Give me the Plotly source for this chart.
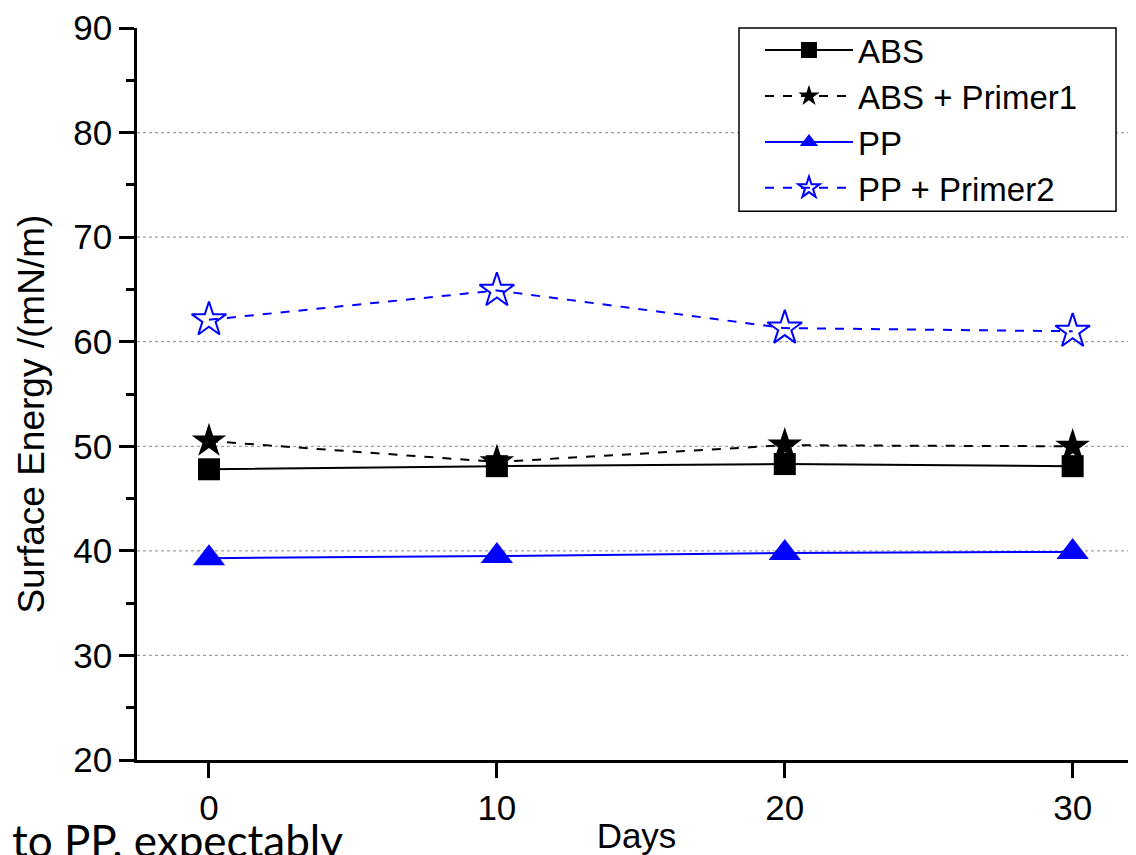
import plotly.graph_objects as go

days = [0, 10, 20, 30]
abs_vals = [47.8, 48.1, 48.3, 48.1]
abs_primer1 = [50.5, 48.5, 50.1, 50.0]
pp_vals = [39.3, 39.5, 39.8, 39.9]
pp_primer2 = [62.1, 64.9, 61.3, 61.0]
grid_vals = [30, 40, 50, 60, 70, 80]
y_ticks = [20, 30, 40, 50, 60, 70, 80, 90]
x_ticks = [0, 10, 20, 30]

FONT = "Liberation Sans, Arial, sans-serif"

fig = go.Figure()
fig.add_trace(go.Scatter(x=days, y=abs_vals, name="ABS", mode="lines+markers",
                         line=dict(color="black", width=2),
                         marker=dict(symbol="square", size=22, color="black")))
fig.add_trace(go.Scatter(x=days, y=abs_primer1, name="ABS + Primer1", mode="lines+markers",
                         line=dict(color="black", width=2, dash="dash"),
                         marker=dict(symbol="star", size=26, color="black")))
fig.add_trace(go.Scatter(x=days, y=pp_vals, name="PP", mode="lines+markers",
                         line=dict(color="#0000ff", width=2),
                         marker=dict(symbol="triangle-up", size=28, color="#0000ff")))
fig.add_trace(go.Scatter(x=days, y=pp_primer2, name="PP + Primer2", mode="lines+markers",
                         line=dict(color="#0000ff", width=2, dash="dash"),
                         marker=dict(symbol="star-open", size=26, color="#0000ff",
                                     line=dict(width=2, color="#0000ff"))))

for g in grid_vals:
    fig.add_shape(type="line", xref="paper", yref="y", x0=0, x1=1, y0=g, y1=g,
                  line=dict(color="#a0a0a0", width=1.2, dash="dot"), layer="below")

# legend frame
fig.add_shape(type="rect", xref="paper", yref="paper", x0=0.6026, x1=0.98, y0=0.7497, y1=1.0,
              line=dict(color="black", width=1.5), fillcolor="white", layer="above")

fig.add_annotation(text="Surface Energy /(mN/m)", xref="paper", yref="paper",
                   x=-0.106, y=0.472, xanchor="center", yanchor="middle", textangle=-90,
                   showarrow=False, font=dict(family=FONT, size=37, color="black"))

fig.add_annotation(text="to PP, expectably", xref="paper", yref="paper",
                   x=-0.127, y=-0.0705, xanchor="left", yanchor="top", showarrow=False,
                   font=dict(family="Lato, Open Sans, sans-serif", size=44, color="black"))

fig.update_layout(
    width=1128, height=847,
    margin=dict(l=129, r=0, t=16, b=88),
    plot_bgcolor="white", paper_bgcolor="white",
    font=dict(family=FONT, size=35, color="black"),
    showlegend=True,
    legend=dict(x=0.6236, y=1.008, xanchor="left", yanchor="top",
                borderwidth=0, bgcolor="rgba(0,0,0,0)",
                font=dict(family=FONT, size=33, color="black"),
                itemwidth=88, tracegroupgap=0),
    xaxis=dict(range=[-2.5, 32.2], tickvals=x_ticks, ticks="outside", ticklen=15,
               tickwidth=2.5, tickcolor="black", showline=True, linewidth=2.5,
               linecolor="black", showgrid=False, zeroline=False,
               tickfont=dict(size=35, family=FONT), ticklabeloverflow="allow",
               title=dict(text="Days", font=dict(size=35, family=FONT), standoff=4)),
    yaxis=dict(range=[20, 90], tickvals=y_ticks, ticks="outside", ticklen=15,
               tickwidth=2.5, tickcolor="black", showline=True, linewidth=2.5,
               linecolor="black", showgrid=False, zeroline=False,
               tickfont=dict(size=35, family=FONT), ticklabeloverflow="allow",
               minor=dict(ticks="outside", ticklen=8, tickwidth=2.5, tickcolor="black",
                          dtick=5, tick0=25, showgrid=False)),
)

fig.write_html("out.html")
